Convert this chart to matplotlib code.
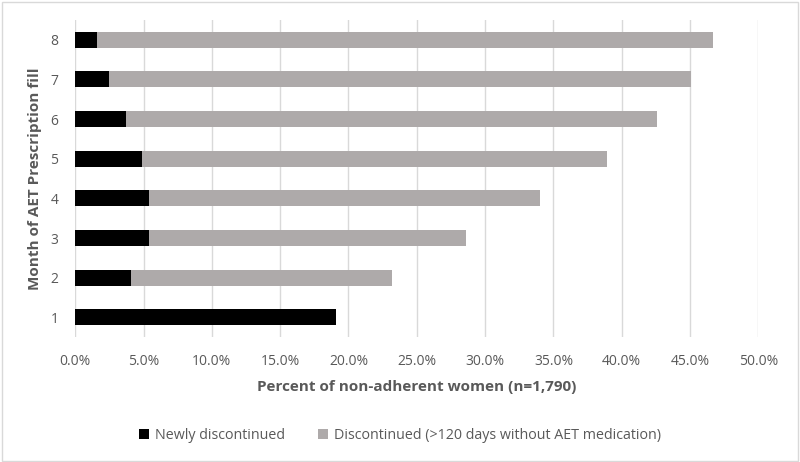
import numpy as np
import matplotlib.pyplot as plt
from matplotlib.patches import Rectangle

plt.rcParams['font.family'] = ['Open Sans', 'DejaVu Sans']

# month of prescription fill, values in percent
months = ['1', '2', '3', '4', '5', '6', '7', '8']
newly = [19.1, 4.1, 5.4, 5.4, 4.9, 3.7, 2.5, 1.6]
total = [19.1, 23.2, 28.6, 34.0, 38.9, 42.6, 45.1, 46.7]
discontinued = [t - n for t, n in zip(total, newly)]

xticks = np.arange(0, 55, 5)
xticklabels = ['%.1f%%' % v for v in xticks]

txt = '#595959'
black = '#000000'
gray = '#AEAAAA'

fig = plt.figure(figsize=(8, 4.62), dpi=100)
ax = fig.add_axes([0.094, 0.27, 0.854, 0.687])

y = np.arange(1, len(months) + 1)
ax.barh(y, newly, height=0.4, color=black, label='Newly discontinued', zorder=3)
ax.barh(y, discontinued, left=newly, height=0.4, color=gray,
        label='Discontinued (>120 days without AET medication)', zorder=3)

ax.set_xlim(0, 50)
ax.set_ylim(0.5, 8.5)
ax.set_xticks(xticks)
ax.set_xticklabels(xticklabels)
ax.set_yticks(y)
ax.set_yticklabels(months)
ax.tick_params(length=0, labelsize=10, colors=txt, pad=12)
ax.tick_params(axis='y', pad=12)
ax.grid(axis='x', color='#D9D9D9', linewidth=1, zorder=0)
for s in ax.spines.values():
    s.set_visible(False)

ax.set_xlabel('Percent of non-adherent women (n=1,790)', fontsize=11,
              fontweight='bold', color=txt, labelpad=8)
ax.set_ylabel('Month of AET Prescription fill', fontsize=11,
              fontweight='bold', color=txt, labelpad=6)

leg = fig.legend(loc='center', bbox_to_anchor=(0.5, 0.058), ncol=2, frameon=False,
                 fontsize=10.3, handlelength=0.7, handleheight=0.7,
                 columnspacing=2.3, handletextpad=0.4)
for t in leg.get_texts():
    t.set_color(txt)

fig.patches.append(Rectangle((0.002, 0.003), 0.995, 0.993, transform=fig.transFigure,
                             fill=False, edgecolor='#D9D9D9', linewidth=1))

fig.savefig('out.png', dpi=100, facecolor='white')
